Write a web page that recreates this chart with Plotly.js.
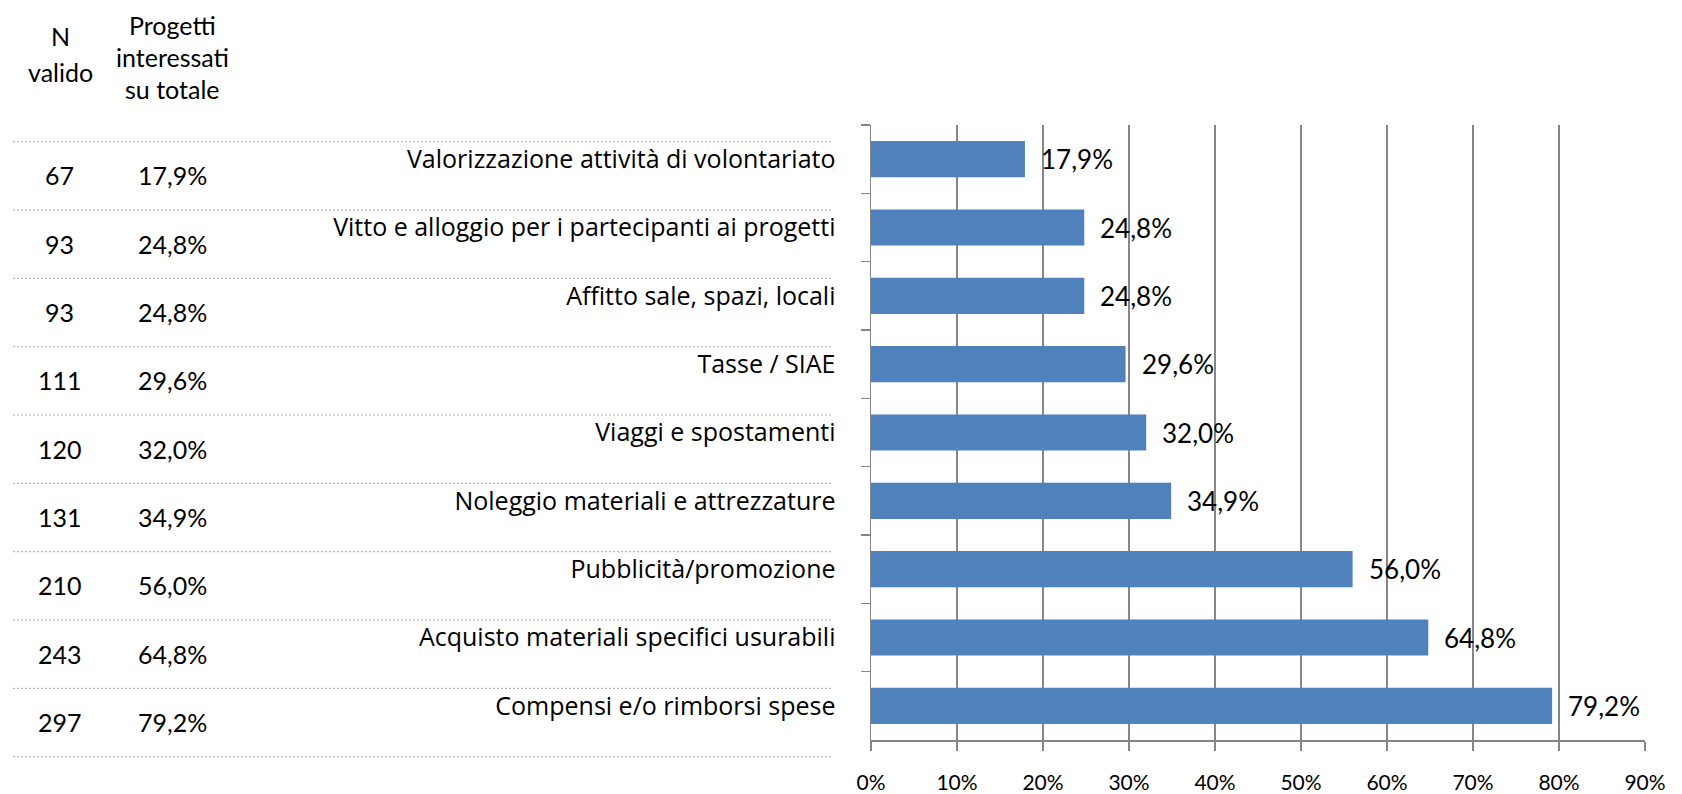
<!DOCTYPE html>
<html><head><meta charset="utf-8">
<script src="https://cdn.plot.ly/plotly-3.0.1.min.js"></script>
<style>body{margin:0;background:#fff}</style>
</head><body>
<div id="chart" style="width:1682px;height:794px"></div>
<script>
const categories = [
  'Valorizzazione attività di volontariato',
  'Vitto e alloggio per i partecipanti ai progetti',
  'Affitto sale, spazi, locali',
  'Tasse / SIAE',
  'Viaggi e spostamenti',
  'Noleggio materiali e attrezzature',
  'Pubblicità/promozione',
  'Acquisto materiali specifici usurabili',
  'Compensi e/o rimborsi spese'
];
const nValido = [67, 93, 93, 111, 120, 131, 210, 243, 297];
const percentuali = [17.9, 24.8, 24.8, 29.6, 32.0, 34.9, 56.0, 64.8, 79.2];
const xTickValues = [0, 10, 20, 30, 40, 50, 60, 70, 80, 90];
const xTickLabels = ['0%', '10%', '20%', '30%', '40%', '50%', '60%', '70%', '80%', '90%'];
const headerN = ['N', 'valido'];
const headerProgetti = ['Progetti', 'interessati', 'su totale'];

const W = 1682, H = 794;
const L = 870.7, R = 1645, T = 125, B = 739.7;
const catH = (B - T) / categories.length;
const px2x = px => (px - L) / (R - L);
const py2y = py => (B - py) / (B - T);
const fmt = v => v.toFixed(1).replace('.', ',') + '%';
const txtFont = {family: 'Lato, "Open Sans", sans-serif', size: 25, color: '#000'};

const annotations = [];
// data labels
percentuali.forEach((v, i) => {
  annotations.push({x: v, y: categories[i], xref: 'x', yref: 'y', text: fmt(v),
    showarrow: false, xanchor: 'left', xshift: 14, font: {family: 'Lato, sans-serif', size: 26, color: '#000'}});
});
// left table
categories.forEach((c, i) => {
  annotations.push({x: px2x(59), y: c, xref: 'paper', yref: 'y', text: String(nValido[i]),
    showarrow: false, xanchor: 'center', yshift: -16, font: txtFont});
  annotations.push({x: px2x(172), y: c, xref: 'paper', yref: 'y', text: fmt(percentuali[i]),
    showarrow: false, xanchor: 'center', yshift: -16, font: txtFont});
});
// headers
const nY = [36, 72];
headerN.forEach((t, k) => annotations.push({x: px2x(60), y: py2y(nY[k]), xref: 'paper', yref: 'paper',
  text: t, showarrow: false, xanchor: 'center', yanchor: 'middle', font: txtFont}));
const pY = [25, 57, 89];
headerProgetti.forEach((t, k) => annotations.push({x: px2x(172), y: py2y(pY[k]), xref: 'paper', yref: 'paper',
  text: t, showarrow: false, xanchor: 'center', yanchor: 'middle', font: txtFont}));

// dotted separators
const shapes = [];
for (let k = 0; k <= categories.length; k++) {
  const py = T + k * catH + 16.7;
  shapes.push({type: 'line', xref: 'paper', yref: 'paper', x0: px2x(13), x1: px2x(833),
    y0: py2y(py), y1: py2y(py), line: {color: '#555', width: 1, dash: '1px,3px'}});
}

const trace = {
  type: 'bar', orientation: 'h', x: percentuali, y: categories,
  marker: {color: '#4F81BD'}, hoverinfo: 'skip'
};

const layout = {
  width: W, height: H, autosize: false,
  margin: {l: L, r: W - R, t: T, b: H - B, pad: 0},
  paper_bgcolor: '#fff', plot_bgcolor: '#fff',
  showlegend: false, bargap: 0.47,
  xaxis: {range: [0, 90], tickvals: xTickValues, ticktext: xTickLabels,
    showgrid: true, gridcolor: '#868686', gridwidth: 1.5, zeroline: false,
    showline: true, linecolor: '#868686', linewidth: 1.5,
    ticks: 'outside', ticklen: 9, tickcolor: '#868686', tickwidth: 1.5,
    ticklabelstandoff: 14, tickfont: {family: 'Lato, sans-serif', size: 21, color: '#000'}},
  yaxis: {type: 'category', autorange: 'reversed', showgrid: false, zeroline: false,
    showline: true, linecolor: '#868686', linewidth: 1.5,
    ticks: 'outside', tickson: 'boundaries', ticklen: 9, tickcolor: '#868686', tickwidth: 1.5,
    ticklabelstandoff: 29, tickfont: {family: '"Open Sans", sans-serif', size: 25, color: '#000'}},
  annotations: annotations, shapes: shapes
};

Plotly.newPlot('chart', [trace], layout, {displayModeBar: false, staticPlot: true});
</script>
</body></html>
